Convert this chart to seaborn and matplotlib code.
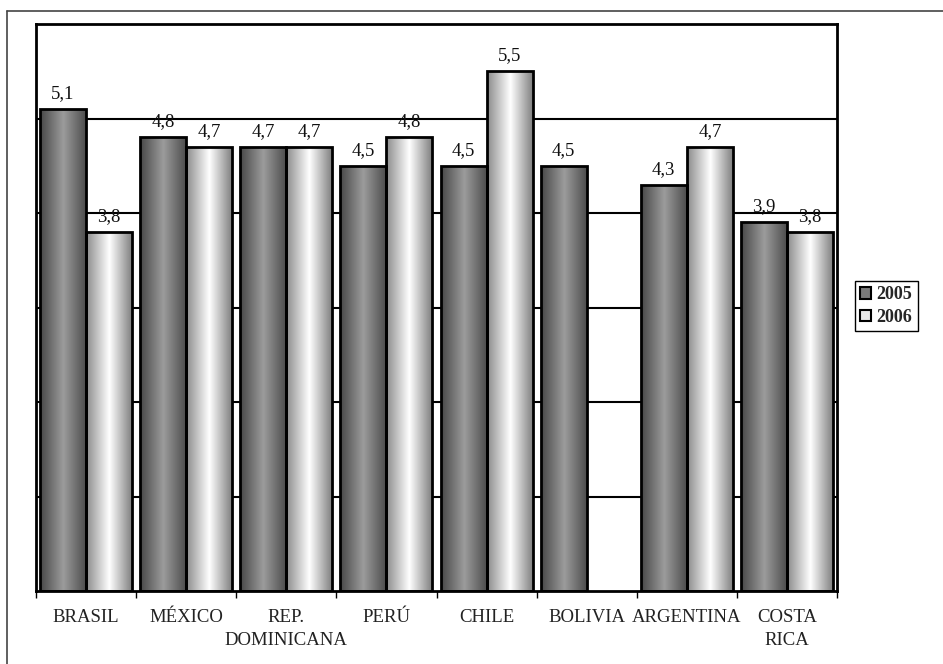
import numpy as np
import pandas as pd
import matplotlib
matplotlib.use("Agg")
import matplotlib.pyplot as plt
from matplotlib.colors import LinearSegmentedColormap
from matplotlib.patches import Patch
from matplotlib.lines import Line2D
import seaborn as sns

categories = ["BRASIL", "MÉXICO", "REP.\nDOMINICANA", "PERÚ", "CHILE",
              "BOLIVIA", "ARGENTINA", "COSTA\nRICA"]
values_2005 = [5.1, 4.8, 4.7, 4.5, 4.5, 4.5, 4.3, 3.9]
values_2006 = [3.8, 4.7, 4.7, 4.8, 5.5, np.nan, 4.7, 3.8]
series = ["2005", "2006"]

rows = []
for c, a, b in zip(categories, values_2005, values_2006):
    rows.append({"pais": c, "anio": "2005", "valor": a})
    rows.append({"pais": c, "anio": "2006", "valor": b})
df = pd.DataFrame(rows).dropna()

sns.set_theme(style="white")
plt.rcParams["font.family"] = ["Liberation Serif", "DejaVu Serif"]

fig = plt.figure(figsize=(9.43, 6.64), dpi=100)
W, H = 943, 664
ax = fig.add_axes([36 / W, 1 - 591 / H, (837 - 36) / W, (591 - 24) / H])

sns.barplot(data=df, x="pais", y="valor", hue="anio", order=categories,
            hue_order=series, palette=["#808080", "#e0e0e0"], width=0.92,
            edgecolor="black", linewidth=2, legend=False, ax=ax)

cmaps = [
    LinearSegmentedColormap.from_list("dark", [(0, "#474747"), (0.5, "#9c9c9c"), (1, "#4a4a4a")]),
    LinearSegmentedColormap.from_list("light", [(0, "#8a8a8a"), (0.5, "#ffffff"), (1, "#7a7a7a")]),
]
grad = np.linspace(0, 1, 256).reshape(1, -1)

for ci, cont in enumerate(ax.containers):
    labels = []
    for p in cont:
        h = p.get_height()
        labels.append("" if not np.isfinite(h) else f"{h:.1f}".replace(".", ","))
        if not np.isfinite(h) or h == 0:
            continue
        x, w = p.get_x(), p.get_width()
        im = ax.imshow(grad, extent=[x, x + w, 0, h], aspect="auto",
                       cmap=cmaps[ci], zorder=2, interpolation="bilinear")
        im.set_clip_path(p)
        p.set_facecolor("none")
        p.set_zorder(3)
    ax.bar_label(cont, labels=labels, padding=5, fontsize=13.5, color="#111111")

ax.set_xlim(-0.5, 7.5)
ax.set_ylim(0, 6)
ax.set_yticks([1, 2, 3, 4, 5])
ax.set_yticklabels([])
ax.tick_params(axis="y", length=0)
ax.grid(axis="y", color="black", linewidth=1.5)
ax.set_axisbelow(True)
for ln in ax.get_ygridlines():
    ln.set_zorder(0.5)

ax.set_xlabel("")
ax.set_ylabel("")
ax.set_xticks(range(len(categories)))
ax.set_xticklabels(categories, fontsize=13.5, color="#222222", linespacing=1.45)
ax.set_xticks(np.arange(-0.5, 8, 1), minor=True)
ax.tick_params(axis="x", which="major", length=0, pad=13)
ax.tick_params(axis="x", which="minor", length=5, width=1, color="black", bottom=True)

for s in ax.spines.values():
    s.set_visible(True)
    s.set_color("black")
    s.set_linewidth(2)

# outer frame
fig.add_artist(Line2D([7 / W, 1], [1 - 11 / H, 1 - 11 / H], color="#444444", linewidth=1.2))
fig.add_artist(Line2D([7 / W, 7 / W], [0, 1 - 11 / H], color="#444444", linewidth=1.2))

handles = [Patch(facecolor="#7a7a7a", edgecolor="black", linewidth=1.5),
           Patch(facecolor="#e6e6e6", edgecolor="black", linewidth=1.5)]
leg = fig.legend(handles, series, loc="upper left", bbox_to_anchor=(855 / W, 1 - 281 / H),
                 frameon=True, fancybox=False, edgecolor="black", framealpha=1,
                 prop={"size": 13, "weight": "bold"}, handlelength=0.6, handleheight=0.6,
                 handletextpad=0.3, borderpad=0.3, labelspacing=0.3, borderaxespad=0)
leg.get_frame().set_linewidth(1)

fig.savefig("out.png", dpi=100)
